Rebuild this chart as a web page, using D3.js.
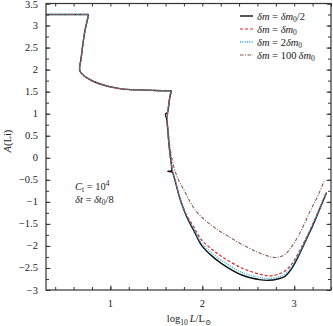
<!DOCTYPE html>
<html>
<head>
<meta charset="utf-8">
<script src="https://cdn.jsdelivr.net/npm/d3@7"></script>
<style>
  body { margin: 0; background: #fff; }
  svg text, svg tspan { font-family: "Liberation Serif", "DejaVu Serif", serif; fill: #222; }
</style>
</head>
<body>
<div id="chart"></div>
<script>
// A(Li) against log10 L/Lsun, four mass-step runs

const xTicks = [1, 2, 3];
const yTicks = [-3, -2.5, -2, -1.5, -1, -0.5, 0, 0.5, 1, 1.5, 2, 2.5, 3, 3.5];
const yTickLabels = ["\u22123", "\u22122.5", "\u22122", "\u22121.5", "\u22121", "\u22120.5", "0", "0.5", "1", "1.5", "2", "2.5", "3", "3.5"];

// common upper part (all runs overlap here)
const headLogL = [0.30, 0.60, 0.745, 0.76, 0.757, 0.72, 0.68, 0.665, 0.68, 0.74, 0.88, 1.10, 1.31, 1.50, 1.64, 1.66];
const headALi  = [3.25, 3.25, 3.25, 3.25, 3.20, 2.84, 2.23, 2.00, 1.93, 1.82, 1.68, 1.57, 1.54, 1.525, 1.52, 1.52];

// dm = dm0/2
const halfLogL = [1.657, 1.645, 1.625, 1.615, 1.60, 1.615, 1.625, 1.64, 1.66, 1.665, 1.625, 1.67, 1.68, 1.71, 1.76, 1.83, 1.91, 1.99, 2.10, 2.21, 2.43, 2.64, 2.72, 2.82, 2.90, 2.97, 3.04, 3.11, 3.18, 3.26, 3.35];
const halfALi  = [1.47, 1.35, 1.05, 1.01, 1.00, 0.85, 0.62, 0.25, -0.10, -0.29, -0.31, -0.32, -0.35, -0.57, -0.95, -1.34, -1.66, -1.98, -2.22, -2.40, -2.66, -2.77, -2.78, -2.75, -2.69, -2.52, -2.26, -1.95, -1.64, -1.25, -0.80];

// dm = dm0
const oneLogL = [1.657, 1.645, 1.625, 1.615, 1.625, 1.64, 1.66, 1.68, 1.71, 1.76, 1.83, 1.91, 1.99, 2.10, 2.21, 2.43, 2.64, 2.74, 2.83, 2.90, 2.97, 3.04, 3.11, 3.18, 3.26, 3.35];
const oneALi  = [1.47, 1.35, 1.05, 0.85, 0.62, 0.25, -0.10, -0.33, -0.55, -0.93, -1.30, -1.58, -1.86, -2.07, -2.24, -2.50, -2.65, -2.68, -2.64, -2.57, -2.42, -2.18, -1.90, -1.60, -1.22, -0.78];

// dm = 2 dm0
const twoLogL = [1.657, 1.645, 1.625, 1.62, 1.625, 1.64, 1.66, 1.68, 1.71, 1.76, 1.83, 1.91, 1.99, 2.10, 2.21, 2.43, 2.64, 2.73, 2.82, 2.90, 2.97, 3.04, 3.11, 3.18, 3.26, 3.35];
const twoALi  = [1.47, 1.35, 1.05, 0.85, 0.62, 0.25, -0.10, -0.32, -0.55, -0.94, -1.32, -1.62, -1.93, -2.15, -2.33, -2.60, -2.72, -2.74, -2.71, -2.64, -2.48, -2.23, -1.93, -1.62, -1.24, -0.80];

// dm = 100 dm0
const hundredLogL = [1.657, 1.645, 1.625, 1.62, 1.63, 1.645, 1.66, 1.69, 1.74, 1.80, 1.86, 1.92, 2.00, 2.08, 2.18, 2.29, 2.40, 2.51, 2.61, 2.70, 2.77, 2.84, 2.90, 2.97, 3.04, 3.11, 3.18, 3.26, 3.33];
const hundredALi  = [1.47, 1.35, 1.05, 0.85, 0.62, 0.30, 0.10, -0.20, -0.50, -0.73, -0.97, -1.18, -1.36, -1.50, -1.65, -1.79, -1.93, -2.05, -2.15, -2.22, -2.26, -2.25, -2.19, -2.02, -1.79, -1.50, -1.18, -0.85, -0.50];

const width = 333, height = 326;
const plotLeft = 46, plotRight = 331, plotTop = 3.5, plotBottom = 290;

const svg = d3.select("#chart").append("svg")
    .attr("width", width)
    .attr("height", height);

const x = d3.scaleLinear().domain([0.3, 3.4]).range([plotLeft, plotRight]);
const y = d3.scaleLinear().domain([-3, 3.5]).range([plotBottom, plotTop]);

function pts(xs, ys) { return xs.map((v, i) => [v, ys[i]]); }
function withHead(xs, ys) { return pts(headLogL, headALi).concat(pts(xs, ys)); }

const series = [
    { name: "half", data: withHead(halfLogL, halfALi), color: "#111", dash: null, w: 1.4 },
    { name: "one", data: withHead(oneLogL, oneALi), color: "#e3262a", dash: "3,2", w: 1.2 },
    { name: "two", data: withHead(twoLogL, twoALi), color: "#17aee6", dash: "1,1.3", w: 1.3 },
    { name: "hundred", data: withHead(hundredLogL, hundredALi), color: "#8c5a4e", dash: "3.5,1.5,1,1.5", w: 1.1 }
];

const line = d3.line()
    .x(d => x(d[0]))
    .y(d => y(d[1]))
    .curve(d3.curveCatmullRom.alpha(0.5));

const plot = svg.append("g");
plot.selectAll("path.series")
    .data(series)
    .join("path")
    .attr("class", "series")
    .attr("d", d => line(d.data))
    .attr("fill", "none")
    .attr("stroke", d => d.color)
    .attr("stroke-width", d => d.w)
    .attr("stroke-dasharray", d => d.dash);

// axes, ticks inside on all four sides
const xMinor = d3.range(0.4, 3.401, 0.2);
const yMinor = d3.range(-3, 3.501, 0.25);

svg.append("g").attr("transform", `translate(0,${plotBottom})`)
    .call(d3.axisTop(x).tickValues(xMinor).tickSize(3).tickFormat(""));
svg.append("g").attr("transform", `translate(0,${plotTop})`)
    .call(d3.axisBottom(x).tickValues(xMinor).tickSize(3).tickFormat(""));
svg.append("g").attr("transform", `translate(${plotLeft},0)`)
    .call(d3.axisRight(y).tickValues(yMinor).tickSize(3).tickFormat(""));
svg.append("g").attr("transform", `translate(${plotRight},0)`)
    .call(d3.axisLeft(y).tickValues(yMinor).tickSize(3).tickFormat(""));

svg.append("g").attr("transform", `translate(0,${plotBottom})`)
    .call(d3.axisTop(x).tickValues(xTicks).tickSize(4.5).tickFormat(""));
svg.append("g").attr("transform", `translate(${plotLeft},0)`)
    .call(d3.axisRight(y).tickValues(yTicks).tickSize(4.5).tickFormat(""));
svg.append("g").attr("transform", `translate(${plotRight},0)`)
    .call(d3.axisLeft(y).tickValues(yTicks).tickSize(4.5).tickFormat(""));

svg.selectAll(".domain").remove();
svg.selectAll(".tick line").attr("stroke", "#333").attr("stroke-width", 1);

svg.append("rect")
    .attr("x", plotLeft).attr("y", plotTop)
    .attr("width", plotRight - plotLeft).attr("height", plotBottom - plotTop)
    .attr("fill", "none").attr("stroke", "#333").attr("stroke-width", 1.2);

// tick labels
svg.append("g").selectAll("text")
    .data(xTicks)
    .join("text")
    .attr("x", d => x(d))
    .attr("y", 307)
    .attr("text-anchor", "middle")
    .attr("font-size", 10.5)
    .text(d => d);

svg.append("g").selectAll("text")
    .data(yTicks)
    .join("text")
    .attr("x", 38)
    .attr("y", d => y(d) + 3.5 + (d === 3.5 ? 0.8 : 0))
    .attr("text-anchor", "end")
    .attr("font-size", 10.5)
    .text((d, i) => yTickLabels[i]);

// axis titles
const xt = svg.append("text")
    .attr("x", 189).attr("y", 322)
    .attr("text-anchor", "middle")
    .attr("font-size", 10.5);
xt.append("tspan").text("log");
xt.append("tspan").attr("font-size", 7.5).attr("dy", 2.5).text("10");
xt.append("tspan").attr("dy", -2.5).attr("font-style", "italic").text("\u2009L");
xt.append("tspan").text("/L");
xt.append("tspan").attr("font-size", 7.5).attr("dy", 2.5).text("\u2299");

const yt = svg.append("text")
    .attr("transform", "translate(11,141) rotate(-90)")
    .attr("text-anchor", "middle")
    .attr("font-size", 10.5);
yt.append("tspan").attr("font-style", "italic").text("A");
yt.append("tspan").text("(Li)");

// annotation
const a1 = svg.append("text").attr("x", 75).attr("y", 190).attr("font-size", 10.5);
a1.append("tspan").attr("font-style", "italic").text("C");
a1.append("tspan").attr("font-size", 7.5).attr("dy", 2).text("t");
a1.append("tspan").attr("dy", -2).text(" = 10");
a1.append("tspan").attr("font-size", 7.5).attr("dy", -4).text("4");

const a2 = svg.append("text").attr("x", 75).attr("y", 203).attr("font-size", 10.5);
a2.append("tspan").attr("font-style", "italic").text("\u03b4t");
a2.append("tspan").text(" = ");
a2.append("tspan").attr("font-style", "italic").text("\u03b4t");
a2.append("tspan").attr("font-size", 7.5).attr("dy", 2).text("0");
a2.append("tspan").attr("dy", -2).text("/8");

// legend
const legendLabels = [
    [["\u03b4m", true], [" = ", false], ["\u03b4m", true], ["0", "sub"], ["/2", false]],
    [["\u03b4m", true], [" = ", false], ["\u03b4m", true], ["0", "sub"]],
    [["\u03b4m", true], [" = 2", false], ["\u03b4m", true], ["0", "sub"]],
    [["\u03b4m", true], [" = 100\u2009", false], ["\u03b4m", true], ["0", "sub"]]
];
const legendY = [16, 29, 42, 55];

const lg = svg.append("g");
series.forEach((s, i) => {
    lg.append("line")
        .attr("x1", 240).attr("x2", 253)
        .attr("y1", legendY[i]).attr("y2", legendY[i])
        .attr("stroke", s.color)
        .attr("stroke-width", s.w)
        .attr("stroke-dasharray", s.dash);
    const t = lg.append("text")
        .attr("x", 257).attr("y", legendY[i] + 3.5)
        .attr("font-size", 10.5);
    let sub = false;
    legendLabels[i].forEach(p => {
        const ts = t.append("tspan").text(p[0]);
        if (p[1] === true) ts.attr("font-style", "italic");
        if (p[1] === "sub") { ts.attr("font-size", 7.5).attr("dy", 2); sub = true; }
        else if (sub) { ts.attr("dy", -2); sub = false; }
    });
});
</script>
</body>
</html>
